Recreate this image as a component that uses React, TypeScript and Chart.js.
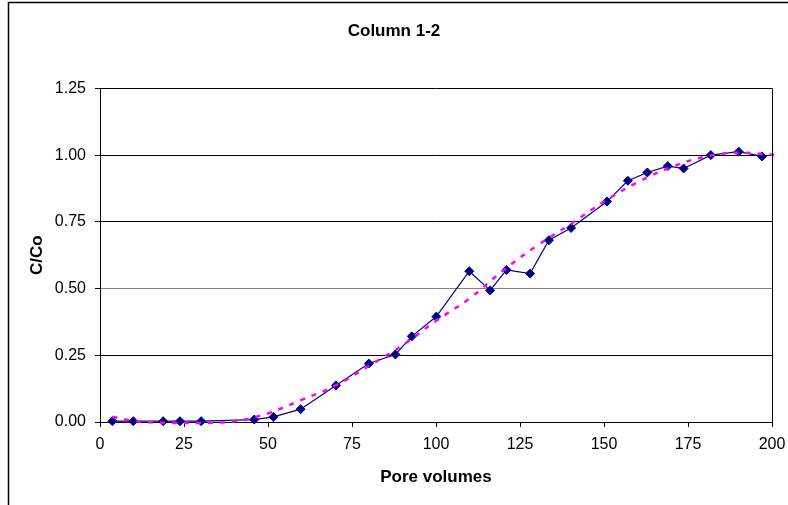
import React, { useEffect, useRef } from "react";
import { Chart, registerables } from "chart.js";

Chart.register(...registerables);

// Measured breakthrough points: pore volumes vs relative concentration
const poreVolumes = [
  3.7, 9.9, 18.8, 23.8, 30.1, 45.9, 51.6, 59.7, 70.2, 80.0, 87.9, 92.8, 100.1,
  109.9, 116.1, 121.0, 128.0, 133.6, 140.2, 150.9, 157.1, 162.9, 169.0, 173.7,
  181.8, 190.1, 197.0,
];
const concentration = [
  0.003, 0.003, 0.003, 0.003, 0.003, 0.009, 0.019, 0.048, 0.137, 0.219, 0.253,
  0.321, 0.395, 0.565, 0.493, 0.57, 0.556, 0.681, 0.727, 0.826, 0.904, 0.935,
  0.959, 0.95, 1.0, 1.013, 0.995,
];

// Trend curve through the measurements
const trendX = [
  3.7, 10, 20, 30, 40, 50, 60, 70, 80, 90, 100, 110, 120, 130, 140, 150, 160,
  170, 180, 190, 201.5,
];
const trendY = [
  0.02, 0.004, -0.003, -0.003, 0.003, 0.033, 0.083, 0.136, 0.21, 0.287, 0.379,
  0.463, 0.568, 0.66, 0.741, 0.826, 0.898, 0.955, 0.994, 1.009, 1.0,
];

const xTicks = [0, 25, 50, 75, 100, 125, 150, 175, 200];
const yTicks = [0, 0.25, 0.5, 0.75, 1.0, 1.25];

const chartTitle = "Column 1-2";
const xTitle = "Pore volumes";
const yTitle = "C/Co";

const FONT = "Arial, 'Liberation Sans', sans-serif";

// Black box around the plot area and the outer chart frame
const framePlugin = {
  id: "frames",
  afterDraw(chart: any) {
    const { ctx, chartArea } = chart;
    ctx.save();
    ctx.strokeStyle = "#000";
    ctx.lineWidth = 1;
    ctx.beginPath();
    ctx.moveTo(Math.round(chartArea.right) + 0.5, chartArea.top);
    ctx.lineTo(Math.round(chartArea.right) + 0.5, chartArea.bottom);
    ctx.stroke();
    ctx.lineWidth = 1.5;
    ctx.beginPath();
    ctx.moveTo(8.5, chart.height);
    ctx.lineTo(8.5, 2.5);
    ctx.lineTo(chart.width, 2.5);
    ctx.stroke();
    ctx.restore();
  },
};

export default function App() {
  const canvasRef = useRef<HTMLCanvasElement | null>(null);

  useEffect(() => {
    const canvas = canvasRef.current;
    if (!canvas) return;
    const chart = new Chart(canvas, {
      type: "scatter",
      data: {
        datasets: [
          {
            label: "Trend",
            data: trendX.map((x, i) => ({ x, y: trendY[i] })),
            showLine: true,
            borderColor: "#ff00ff",
            borderWidth: 2.5,
            borderDash: [5, 7],
            tension: 0.4,
            pointRadius: 0,
            clip: false,
            order: 0,
          },
          {
            label: "C/Co",
            data: poreVolumes.map((x, i) => ({ x, y: concentration[i] })),
            showLine: true,
            borderColor: "#000080",
            borderWidth: 1.2,
            backgroundColor: "#000080",
            pointStyle: "rectRot",
            pointRadius: 4.5,
            pointBorderWidth: 1,
            pointBorderColor: "#000080",
            pointBackgroundColor: "#000080",
            clip: false,
            order: 1,
          },
        ],
      },
      options: {
        responsive: false,
        animation: false,
        layout: { padding: 0 },
        plugins: {
          legend: { display: false },
          tooltip: { enabled: false },
          title: {
            display: true,
            text: chartTitle,
            color: "#000",
            font: { family: FONT, size: 17, weight: "bold" },
            padding: { top: 21, bottom: 47 },
          },
        },
        scales: {
          x: {
            type: "linear",
            min: 0,
            max: 200,
            afterBuildTicks: (scale: any) => {
              scale.ticks = xTicks.map((v) => ({ value: v }));
            },
            afterFit: (scale: any) => {
              scale.height = 83;
              scale.paddingLeft = 0;
              scale.paddingRight = 16;
            },
            ticks: {
              color: "#000",
              font: { family: FONT, size: 16 },
              padding: 8,
              maxRotation: 0,
              autoSkip: false,
              callback: (v: any) => String(v),
            },
            grid: {
              drawOnChartArea: false,
              drawTicks: true,
              tickLength: 5,
              tickColor: "#000",
              color: "#000",
            },
            border: { display: true, color: "#000", width: 1 },
            title: {
              display: true,
              text: xTitle,
              color: "#000",
              font: { family: FONT, size: 17, weight: "bold" },
              padding: { top: 0, bottom: 17 },
            },
          },
          y: {
            type: "linear",
            min: 0,
            max: 1.25,
            afterBuildTicks: (scale: any) => {
              scale.ticks = yTicks.map((v) => ({ value: v }));
            },
            afterFit: (scale: any) => {
              scale.width = 100;
            },
            ticks: {
              color: "#000",
              font: { family: FONT, size: 16 },
              padding: 9,
              autoSkip: false,
              callback: (v: any) => Number(v).toFixed(2),
            },
            grid: {
              drawOnChartArea: true,
              drawTicks: true,
              tickLength: 5,
              tickColor: "#000",
              color: (ctx: any) =>
                ctx.tick && ctx.tick.value === 0.5 ? "#808080" : "#000",
              lineWidth: 1,
            },
            border: { display: true, color: "#000", width: 1 },
            title: {
              display: true,
              text: yTitle,
              color: "#000",
              font: { family: FONT, size: 17, weight: "bold" },
              padding: { top: 27, bottom: 0 },
            },
          },
        },
      },
      plugins: [framePlugin],
    });
    return () => chart.destroy();
  }, []);

  return (
    <div
      style={{
        position: "fixed",
        left: 0,
        top: 0,
        width: 788,
        height: 505,
        background: "#fff",
      }}
    >
      <canvas ref={canvasRef} width={788} height={505} />
    </div>
  );
}
